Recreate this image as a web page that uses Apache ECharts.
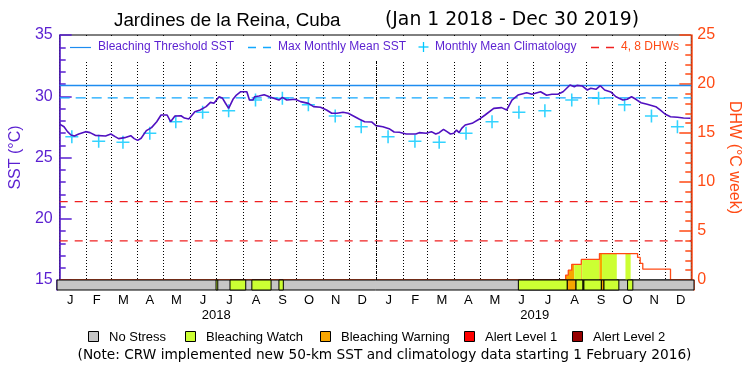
<!DOCTYPE html>
<html>
<head>
<meta charset="utf-8">
<script src="https://cdn.jsdelivr.net/npm/echarts@6/dist/echarts.min.js"></script>
<style>
html, body { margin: 0; padding: 0; background: #fff; }
#chart { width: 750px; height: 375px; }
</style>
</head>
<body>
<div id="chart"></div>
<script>
var chart = echarts.init(document.getElementById('chart'))

// daily SST (°C)
var sstDates = [
    '2018-01-01', '2018-01-06', '2018-01-10', '2018-01-14', '2018-01-18', '2018-01-23', '2018-01-31',
    '2018-02-05', '2018-02-11', '2018-02-23', '2018-03-01', '2018-03-06', '2018-03-10', '2018-03-17',
    '2018-03-24', '2018-03-28', '2018-04-01', '2018-04-05', '2018-04-11', '2018-04-17', '2018-04-23',
    '2018-04-28', '2018-05-05', '2018-05-09', '2018-05-14', '2018-05-21', '2018-05-25', '2018-05-30',
    '2018-06-06', '2018-06-12', '2018-06-19', '2018-06-24', '2018-06-28', '2018-07-04', '2018-07-08',
    '2018-07-11', '2018-07-15', '2018-07-20', '2018-07-24', '2018-07-29', '2018-08-05', '2018-08-08',
    '2018-08-12', '2018-08-14', '2018-08-19', '2018-08-25', '2018-08-31', '2018-09-05', '2018-09-11',
    '2018-09-15', '2018-09-20', '2018-09-30', '2018-10-06', '2018-10-15', '2018-10-21', '2018-10-29',
    '2018-11-05', '2018-11-11', '2018-11-17', '2018-11-24', '2018-11-30', '2018-12-06', '2018-12-13',
    '2018-12-19', '2018-12-27', '2019-01-01', '2019-01-09', '2019-01-17', '2019-01-22', '2019-01-28',
    '2019-02-05', '2019-02-16', '2019-02-20', '2019-02-28', '2019-03-06', '2019-03-11', '2019-03-15',
    '2019-03-20', '2019-03-24', '2019-03-28', '2019-04-01', '2019-04-04', '2019-04-07', '2019-04-10',
    '2019-04-14', '2019-04-22', '2019-04-30', '2019-05-07', '2019-05-17', '2019-05-26', '2019-06-01',
    '2019-06-07', '2019-06-14', '2019-06-24', '2019-06-30', '2019-07-10', '2019-07-17', '2019-07-23',
    '2019-07-30', '2019-08-05', '2019-08-13', '2019-08-18', '2019-08-21', '2019-08-27', '2019-09-02',
    '2019-09-06', '2019-09-12', '2019-09-17', '2019-09-22', '2019-09-29', '2019-10-05', '2019-10-13',
    '2019-10-18', '2019-10-23', '2019-10-28', '2019-11-03', '2019-11-10', '2019-11-20', '2019-11-25',
    '2019-12-01', '2019-12-07', '2019-12-15', '2019-12-22', '2019-12-30'
]
var sstValues = [
    27.73, 27.51, 27.11, 26.84, 26.76, 26.92, 27.11,
    27.03, 26.81, 26.76, 26.92, 26.70, 26.54, 26.62,
    26.78, 26.54, 26.40, 26.57, 27.19, 27.44, 27.92,
    28.47, 28.47, 27.92, 28.39, 28.41, 28.22, 28.14,
    28.74, 28.88, 29.15, 29.50, 29.42, 29.96, 29.83,
    29.47, 29.01, 29.75, 30.10, 30.37, 30.37, 29.69,
    29.69, 29.96, 30.02, 30.13, 29.96, 29.83, 29.69,
    29.91, 29.69, 29.75, 29.56, 29.42, 29.15, 29.10,
    28.88, 28.61, 28.61, 28.69, 28.61, 28.39, 28.12,
    27.92, 27.90, 27.60, 27.51, 27.32, 27.08, 27.06,
    26.92, 26.92, 27.03, 26.98, 27.11, 26.92, 27.03,
    27.30, 27.11, 26.92, 26.98, 27.24, 27.03, 27.38,
    27.65, 27.79, 28.12, 28.47, 29.01, 29.07, 28.88,
    29.69, 30.10, 30.29, 30.16, 30.37, 30.08, 30.16,
    30.16, 30.37, 30.92, 30.78, 30.89, 30.84, 30.51,
    30.65, 30.57, 30.86, 30.51, 30.35, 29.96, 29.69,
    29.75, 29.96, 29.75, 29.47, 29.34, 29.15, 28.88,
    28.53, 28.33, 28.28, 28.22, 28.20
]

var years = ['2018', '2019']
var monthLetters = ['J', 'F', 'M', 'A', 'M', 'J', 'J', 'A', 'S', 'O', 'N', 'D']
// monthly mean climatology, Jan..Dec
var climValues = [26.70, 26.32, 26.24, 26.98, 27.92, 28.69, 28.82, 29.69, 29.83, 29.30, 28.39, 27.51]
var mmm = 29.87
var bleachThreshold = 30.87
var dhwLevels = [4, 8]

// degree heating weeks, value holds from date on
var dhwDates = ['2018-01-01', '2019-08-08', '2019-08-11', '2019-08-15', '2019-08-26', '2019-09-16',
    '2019-10-30', '2019-11-02', '2019-11-05', '2019-12-07', '2019-12-30']
var dhwValues = [0, 0.5, 1.0, 1.6, 2.1, 2.7, 2.3, 1.7, 1.1, 0, 0]

// stress status periods (1 = watch, 2 = warning)
var statusStarts = ['2018-07-02', '2018-07-18', '2018-08-12', '2018-09-12', '2019-06-13', '2019-08-08',
    '2019-08-18', '2019-08-26', '2019-08-27', '2019-09-16', '2019-09-19', '2019-10-16']
var statusEnds = ['2018-07-04', '2018-08-05', '2018-09-03', '2018-09-17', '2019-08-08', '2019-08-18',
    '2019-08-26', '2019-08-27', '2019-09-16', '2019-09-19', '2019-10-06', '2019-10-22']
var statusLevels = [1, 1, 1, 1, 1, 2, 1, 2, 1, 2, 1, 1]
var statusNames = ['No Stress', 'Bleaching Watch', 'Bleaching Warning', 'Alert Level 1', 'Alert Level 2']

var rangeStart = '2018-01-01', rangeEnd = '2019-12-31'

var statusColors = ['#c6c6c6', '#ccff33', '#f7a600', '#ff0000', '#960000']
var purple = '#5a1fd1', orange = '#ff4a14', font = 'Liberation Sans'
var threshColor = '#1e8cf0', mmmColor = '#12a8ff', dhwLineColor = '#f02020'

function toTime(s) {
    var p = s.split('-')
    return new Date(+p[0], +p[1] - 1, +p[2]).getTime()
}

var tMin = toTime(rangeStart), tMax = toTime(rangeEnd)
var dhwTimes = dhwDates.map(toTime)

function dhwAt(t) {
    var v = 0
    for (var i = 0; i < dhwTimes.length; i++) {
        if (dhwTimes[i] <= t) v = dhwValues[i]
    }
    return v
}

function flat(v) { return [[tMin, v], [tMax, v]] }

var sstData = sstDates.map(function (d, i) { return [toTime(d), sstValues[i]] })
var climData = []
years.forEach(function (y) {
    climValues.forEach(function (v, m) {
        climData.push([new Date(+y, m, 15).getTime(), v])
    })
})
var dhwData = dhwDates.map(function (d, i) { return [dhwTimes[i], dhwValues[i]] })

var statusData = [[tMin, tMax, 0]]
statusStarts.forEach(function (s, i) {
    statusData.push([toTime(s), toTime(statusEnds[i]), statusLevels[i]])
})
var areaData = statusData.filter(function (d) { return d[2] > 0 })

var monthCats = []
years.forEach(function () { monthLetters.forEach(function (m) { monthCats.push(m) }) })

var crossPath = 'path://M4.4,0H5.6V10H4.4ZM0,4.4H10V5.6H0Z'

// legends drawn as graphic elements
var graphics = [
    { type: 'rect', z: 50, shape: { x: 72, y: 36, width: 608, height: 24 }, style: { fill: '#fff' } },
    { type: 'line', z: 51, shape: { x1: 70, y1: 47.5, x2: 91, y2: 47.5 }, style: { stroke: threshColor, lineWidth: 1.2 } },
    { type: 'text', z: 51, x: 98, y: 47, style: { text: 'Bleaching Threshold SST', fill: purple, font: '12px "' + font + '"', verticalAlign: 'middle' } },
    { type: 'line', z: 51, shape: { x1: 248, y1: 47.5, x2: 272, y2: 47.5 }, style: { stroke: mmmColor, lineWidth: 1.3, lineDash: [8, 7] } },
    { type: 'text', z: 51, x: 278, y: 47, style: { text: 'Max Monthly Mean SST', fill: purple, font: '12px "' + font + '"', verticalAlign: 'middle' } },
    { type: 'line', z: 51, shape: { x1: 423.5, y1: 42, x2: 423.5, y2: 52 }, style: { stroke: '#00c8ff', lineWidth: 1.3 } },
    { type: 'line', z: 51, shape: { x1: 418.5, y1: 47, x2: 428.5, y2: 47 }, style: { stroke: '#00c8ff', lineWidth: 1.3 } },
    { type: 'text', z: 51, x: 435, y: 47, style: { text: 'Monthly Mean Climatology', fill: purple, font: '12px "' + font + '"', verticalAlign: 'middle' } },
    { type: 'line', z: 51, shape: { x1: 591, y1: 47.5, x2: 615, y2: 47.5 }, style: { stroke: dhwLineColor, lineWidth: 1.3, lineDash: [8, 7] } },
    { type: 'text', z: 51, x: 621, y: 47, style: { text: '4, 8 DHWs', fill: orange, font: '12px "' + font + '"', verticalAlign: 'middle' } },
    { type: 'text', z: 51, x: 384.5, y: 355, style: { text: '(Note: CRW implemented new 50-km SST and climatology data starting 1 February 2016)', fill: '#000', font: '13.7px "DejaVu Sans"', align: 'center', verticalAlign: 'middle' } }
]
var legendX = [88, 185, 320, 464, 572]
statusNames.forEach(function (n, i) {
    graphics.push({ type: 'rect', z: 51, shape: { x: legendX[i] + 0.5, y: 331.5, width: 10, height: 10 }, style: { fill: statusColors[i], stroke: '#000', lineWidth: 1 } })
    graphics.push({ type: 'text', z: 51, x: legendX[i] + 21, y: 337, style: { text: n, fill: '#000', font: '13px "' + font + '"', verticalAlign: 'middle' } })
})

var option = {
    animation: false,
    backgroundColor: '#fff',
    title: [
        { text: 'Jardines de la Reina, Cuba', left: 114, top: 11, padding: 0,
          textStyle: { fontFamily: font, fontSize: 18.8, fontWeight: 'normal', color: '#000' } },
        { text: '(Jan 1 2018 - Dec 30 2019)', left: 385, top: 11, padding: 0,
          textStyle: { fontFamily: 'DejaVu Sans', fontSize: 18.8, fontWeight: 'normal', color: '#000' } }
    ],
    grid: [
        { left: 57, right: 56, top: 35, height: 245, show: true, borderColor: '#000', borderWidth: 1, backgroundColor: 'transparent' },
        { left: 57, right: 56, top: 280, height: 10 }
    ],
    xAxis: [
        {
            type: 'time', gridIndex: 0, min: tMin, max: tMax, splitNumber: 24,
            minInterval: 27 * 86400000,
            axisLine: { show: false }, axisTick: { show: false }, axisLabel: { show: false },
            splitLine: { show: true, lineStyle: { color: '#000', type: [1, 2], width: 1 } }
        },
        { type: 'time', gridIndex: 1, min: tMin, max: tMax, show: false, position: 'top' },
        {
            type: 'category', gridIndex: 1, data: monthCats, position: 'bottom',
            axisLine: { show: false }, axisTick: { show: false },
            axisLabel: { margin: 4, fontFamily: font, fontSize: 13, color: '#000', interval: 0 }
        },
        {
            type: 'category', gridIndex: 1, data: years, position: 'bottom', offset: 15,
            axisLine: { show: false }, axisTick: { show: false },
            axisLabel: { margin: 4, fontFamily: font, fontSize: 13, color: '#000' }
        }
    ],
    yAxis: [
        {
            type: 'value', gridIndex: 0, position: 'left', min: 15, max: 35, interval: 5,
            name: 'SST (°C)', nameLocation: 'middle', nameGap: 29,
            nameTextStyle: { color: purple, fontFamily: font, fontSize: 16 },
            axisLine: { show: true, lineStyle: { color: purple, width: 1.5 } },
            axisTick: { show: true, inside: true, length: 12, lineStyle: { color: purple, width: 1.5 } },
            minorTick: { show: true, splitNumber: 5, length: 6, lineStyle: { color: purple, width: 1.5 } },
            axisLabel: { color: purple, fontFamily: font, fontSize: 16, margin: 7 },
            splitLine: { show: false }
        },
        {
            type: 'value', gridIndex: 0, position: 'right', min: 0, max: 25, interval: 5,
            name: 'DHW (°C week)', nameLocation: 'middle', nameGap: 28, nameRotate: -90,
            nameTextStyle: { color: orange, fontFamily: font, fontSize: 16 },
            axisLine: { show: true, lineStyle: { color: orange, width: 1.5 } },
            axisTick: { show: true, inside: true, length: 12, lineStyle: { color: orange, width: 1.5 } },
            minorTick: { show: true, splitNumber: 5, length: 6, lineStyle: { color: orange, width: 1.5 } },
            axisLabel: { color: orange, fontFamily: font, fontSize: 16, margin: 6 },
            splitLine: { show: false }
        },
        {
            type: 'value', gridIndex: 1, position: 'left', min: 0, max: 1,
            axisLine: { show: true, lineStyle: { color: purple, width: 1.5 } },
            axisTick: { show: false }, axisLabel: { show: false }, splitLine: { show: false }
        },
        {
            type: 'value', gridIndex: 1, position: 'right', min: 0, max: 1,
            axisLine: { show: true, lineStyle: { color: orange, width: 1.5 } },
            axisTick: { show: false }, axisLabel: { show: false }, splitLine: { show: false }
        }
    ],
    graphic: graphics,
    series: [
        {
            name: 'DHW area', type: 'custom', xAxisIndex: 0, yAxisIndex: 1, z: 1,
            data: areaData, encode: { x: [0, 1], y: 2 },
            renderItem: function (params, api) {
                var s = api.value(0), e = api.value(1), lvl = api.value(2)
                var pts = [api.coord([s, 0]), api.coord([s, dhwAt(s)])]
                for (var i = 1; i < dhwTimes.length; i++) {
                    if (dhwTimes[i] > s && dhwTimes[i] < e) {
                        pts.push(api.coord([dhwTimes[i], dhwValues[i - 1]]))
                        pts.push(api.coord([dhwTimes[i], dhwValues[i]]))
                    }
                }
                pts.push(api.coord([e, dhwAt(e - 1)]))
                pts.push(api.coord([e, 0]))
                return { type: 'polygon', shape: { points: pts }, style: { fill: statusColors[lvl] } }
            }
        },
        {
            name: 'DHW', type: 'line', xAxisIndex: 0, yAxisIndex: 1, step: 'end', z: 2,
            data: dhwData, showSymbol: false,
            lineStyle: { color: orange, width: 1.3 }
        },
        {
            name: '4 DHWs', type: 'line', xAxisIndex: 0, yAxisIndex: 1, z: 2,
            data: flat(dhwLevels[0]), showSymbol: false, silent: true,
            lineStyle: { color: dhwLineColor, type: [8, 7], width: 1.2 }
        },
        {
            name: '8 DHWs', type: 'line', xAxisIndex: 0, yAxisIndex: 1, z: 2,
            data: flat(dhwLevels[1]), showSymbol: false, silent: true,
            lineStyle: { color: dhwLineColor, type: [8, 7], width: 1.2 }
        },
        {
            name: 'Max Monthly Mean SST', type: 'line', xAxisIndex: 0, yAxisIndex: 0, z: 2,
            data: flat(mmm), showSymbol: false, silent: true,
            lineStyle: { color: mmmColor, type: [10, 6], width: 1.4 }
        },
        {
            name: 'Bleaching Threshold SST', type: 'line', xAxisIndex: 0, yAxisIndex: 0, z: 2,
            data: flat(bleachThreshold), showSymbol: false, silent: true,
            lineStyle: { color: threshColor, width: 1.5 }
        },
        {
            name: 'Year boundary', type: 'line', xAxisIndex: 0, yAxisIndex: 0, z: 2, data: [],
            markLine: {
                silent: true, symbol: 'none', label: { show: false },
                lineStyle: { color: '#000', type: [1, 1], width: 1 },
                data: [{ xAxis: toTime(years[1] + '-01-01') }]
            }
        },
        {
            name: 'Monthly Mean Climatology', type: 'scatter', xAxisIndex: 0, yAxisIndex: 0, z: 3,
            data: climData, symbol: crossPath, symbolSize: 13,
            itemStyle: { color: '#00c8ff' }
        },
        {
            name: 'SST', type: 'line', xAxisIndex: 0, yAxisIndex: 0, z: 4,
            data: sstData, showSymbol: false,
            lineStyle: { color: '#5010c0', width: 1.6 }
        },
        {
            name: 'Status', type: 'custom', xAxisIndex: 1, yAxisIndex: 2, z: 5,
            data: statusData, encode: { x: [0, 1], y: 2 },
            renderItem: function (params, api) {
                var a = api.coord([api.value(0), 1]), b = api.coord([api.value(1), 0])
                return {
                    type: 'rect',
                    shape: { x: a[0], y: a[1], width: b[0] - a[0], height: b[1] - a[1] },
                    style: { fill: statusColors[api.value(2)], stroke: '#000', lineWidth: 1 }
                }
            }
        }
    ]
}

chart.setOption(option)
</script>
</body>
</html>
